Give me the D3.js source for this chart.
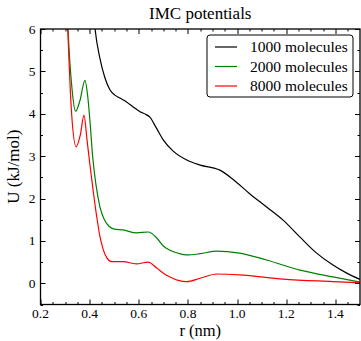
<!DOCTYPE html>
<html>
<head>
<meta charset="utf-8">
<script src="https://cdn.jsdelivr.net/npm/d3@7"></script>
<style>
body { margin: 0; background: #fff; }
svg text { font-family: "Liberation Serif", "DejaVu Serif", serif; fill: #000; }
</style>
</head>
<body>
<div id="chart"></div>
<script>
// values
var r1000 = [0.41, 0.422, 0.442, 0.462, 0.483, 0.503, 0.523, 0.55, 0.577, 0.605, 0.63, 0.645, 0.67, 0.70, 0.74, 0.795, 0.85, 0.93, 0.984, 1.05, 1.12, 1.187, 1.256, 1.32, 1.39, 1.446, 1.5];
var u1000 = [6.8, 6.0, 5.3, 4.85, 4.56, 4.44, 4.37, 4.28, 4.16, 4.05, 3.98, 3.92, 3.68, 3.38, 3.12, 2.91, 2.79, 2.67, 2.45, 2.12, 1.80, 1.49, 1.09, 0.73, 0.43, 0.24, 0.09];

var r2000 = [0.305, 0.312, 0.328, 0.343, 0.36, 0.381, 0.392, 0.401, 0.412, 0.425, 0.442, 0.46, 0.48, 0.50, 0.536, 0.59, 0.638, 0.673, 0.70, 0.727, 0.76, 0.795, 0.85, 0.917, 1.01, 1.12, 1.256, 1.39, 1.5];
var u2000 = [7.0, 6.0, 4.6, 4.06, 4.3, 4.79, 4.42, 3.85, 3.0, 2.35, 1.8, 1.5, 1.34, 1.28, 1.26, 1.19, 1.21, 1.07, 0.88, 0.78, 0.71, 0.67, 0.70, 0.76, 0.71, 0.55, 0.31, 0.15, 0.03];

var r8000 = [0.305, 0.311, 0.327, 0.345, 0.362, 0.377, 0.389, 0.40, 0.414, 0.428, 0.442, 0.455, 0.47, 0.49, 0.536, 0.59, 0.638, 0.673, 0.70, 0.727, 0.76, 0.795, 0.85, 0.917, 1.01, 1.187, 1.39, 1.5];
var u8000 = [7.0, 6.0, 3.97, 3.22, 3.5, 3.97, 3.4, 2.85, 2.2, 1.6, 1.1, 0.8, 0.6, 0.51, 0.51, 0.46, 0.50, 0.36, 0.24, 0.15, 0.07, 0.04, 0.12, 0.22, 0.20, 0.10, 0.04, 0.01];

var seriesNames = ["1000 molecules", "2000 molecules", "8000 molecules"];
var seriesColors = ["#000000", "#008000", "#ff0000"];

var xTicks = [0.2, 0.4, 0.6, 0.8, 1.0, 1.2, 1.4];
var yTicks = [0, 1, 2, 3, 4, 5, 6];

var W = 361, H = 341;
var margin = { top: 29, right: 1, bottom: 36.5, left: 40.5 };
var width = W - margin.left - margin.right;
var height = H - margin.top - margin.bottom;

var x = d3.scaleLinear().domain([0.2, 1.5]).range([0, width]);
var y = d3.scaleLinear().domain([-0.5, 6]).range([height, 0]);

var svg = d3.select("#chart").append("svg")
	.attr("width", W)
	.attr("height", H);

var g = svg.append("g").attr("transform", "translate(" + margin.left + "," + margin.top + ")");

g.append("clipPath").attr("id", "clip")
	.append("rect").attr("width", width).attr("height", height);

var series = [
	{ name: seriesNames[0], color: seriesColors[0], r: r1000, u: u1000 },
	{ name: seriesNames[1], color: seriesColors[1], r: r2000, u: u2000 },
	{ name: seriesNames[2], color: seriesColors[2], r: r8000, u: u8000 }
];

var line = d3.line()
	.x(function(d){ return x(d[0]); })
	.y(function(d){ return y(d[1]); })
	.curve(d3.curveMonotoneX);

g.append("g").attr("clip-path", "url(#clip)")
	.selectAll("path")
	.data(series)
	.enter().append("path")
	.attr("fill", "none")
	.attr("stroke", function(s){ return s.color; })
	.attr("stroke-width", 1.2)
	.attr("d", function(s){ return line(s.r.map(function(v, i){ return [v, s.u[i]]; })); });

// ticks inward on all four sides, minor every 0.05 / 0.5
var xMinor = d3.range(0.25, 1.5, 0.05).filter(function(v){ return Math.abs(v * 5 - Math.round(v * 5)) > 1e-6; });
var yMinor = d3.range(-0.5, 6, 0.5).filter(function(v){ return Math.abs(v - Math.round(v)) > 1e-6; });

var ticks = g.append("g").attr("stroke", "#000").attr("stroke-width", 1);
function tickSet(vals, len, axis){
	vals.forEach(function(v){
		if(axis === "x"){
			var px = Math.round(x(v)) + 0.5;
			ticks.append("line").attr("x1", px).attr("x2", px).attr("y1", height).attr("y2", height - len);
			ticks.append("line").attr("x1", px).attr("x2", px).attr("y1", 0).attr("y2", len);
		} else {
			var py = Math.round(y(v)) + 0.5;
			ticks.append("line").attr("y1", py).attr("y2", py).attr("x1", 0).attr("x2", len);
			ticks.append("line").attr("y1", py).attr("y2", py).attr("x1", width).attr("x2", width - len);
		}
	});
}
tickSet(xTicks, 5, "x");
tickSet(xMinor, 2.5, "x");
tickSet(yTicks, 5, "y");
tickSet(yMinor, 2.5, "y");

g.append("rect")
	.attr("width", width).attr("height", height)
	.attr("fill", "none").attr("stroke", "#000").attr("stroke-width", 1.3);

g.selectAll(".xl").data(xTicks).enter().append("text")
	.attr("x", function(d){ return x(d); })
	.attr("y", height + 13.5)
	.attr("text-anchor", "middle")
	.attr("font-size", 13.5)
	.text(function(d){ return d3.format(".1f")(d); });

g.selectAll(".yl").data(yTicks).enter().append("text")
	.attr("x", -5)
	.attr("y", function(d){ return y(d) + 4.5; })
	.attr("text-anchor", "end")
	.attr("font-size", 13.5)
	.text(function(d){ return d; });

svg.append("text")
	.attr("x", margin.left + width / 2)
	.attr("y", 19)
	.attr("text-anchor", "middle")
	.attr("font-size", 17)
	.text("IMC potentials");

svg.append("text")
	.attr("x", margin.left + width / 2)
	.attr("y", 336)
	.attr("text-anchor", "middle")
	.attr("font-size", 16.5)
	.text("r (nm)");

svg.append("text")
	.attr("transform", "translate(19," + (margin.top + height / 2) + ") rotate(-90)")
	.attr("text-anchor", "middle")
	.attr("font-size", 17)
	.text("U (kJ/mol)");

// legend
var legend = svg.append("g").attr("transform", "translate(207,35)");
legend.append("rect")
	.attr("width", 146).attr("height", 62).attr("rx", 3)
	.attr("fill", "#fff").attr("stroke", "#000").attr("stroke-width", 1);

var item = legend.selectAll(".item").data(series).enter().append("g")
	.attr("transform", function(d, i){ return "translate(0," + (12 + i * 19.5) + ")"; });
item.append("line")
	.attr("x1", 8).attr("x2", 30)
	.attr("stroke", function(d){ return d.color; })
	.attr("stroke-width", 1.2);
item.append("text")
	.attr("x", 43).attr("y", 5)
	.attr("font-size", 15.5)
	.text(function(d){ return d.name; });
</script>
</body>
</html>
